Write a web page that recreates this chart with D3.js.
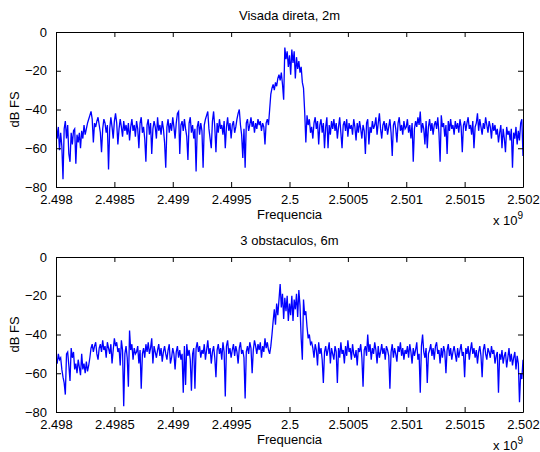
<!DOCTYPE html>
<html>
<head>
<meta charset="utf-8">
<script src="https://cdn.jsdelivr.net/npm/d3@7"></script>
<style>
  html, body { margin: 0; padding: 0; background: #fff; }
  svg { display: block; }
  text { font-family: "Liberation Sans", Arial, Helvetica, sans-serif; fill: #000; }
</style>
</head>
<body>
<svg id="chart" width="540" height="452"></svg>
<script>
// Frequency axis: 401 bins from 2.498 GHz to 2.502 GHz (10 kHz step)
const freqStart = 2.498e9;
const freqStep = 1e4;

const xTicks = [2.498, 2.4985, 2.499, 2.4995, 2.5, 2.5005, 2.501, 2.5015, 2.502];
const xTickLabels = ["2.498", "2.4985", "2.499", "2.4995", "2.5", "2.5005", "2.501", "2.5015", "2.502"];
const yTicks = [0, -20, -40, -60, -80];
const yTickLabels = ["0", "\u221220", "\u221240", "\u221260", "\u221280"];

const titles = ["Visada direta, 2m", "3 obstaculos, 6m"];

// Spectrum, line of sight at 2 m (dB FS)
const spectrumDirect = [
  -47,-55,-49,-61,-52,-59,-76,-50,-46,-55,-48,-63,-67,-52,-58,-51,-50,-68,-53,-57,
  -52,-60,-51,-55,-48,-53,-50,-47,-45,-43,-41,-45,-57,-47,-49,-46,-44,-48,-52,-62,
  -50,-45,-47,-52,-48,-71,-50,-44,-49,-55,-46,-42,-47,-58,-50,-45,-49,-54,-46,-51,
  -48,-53,-47,-56,-49,-45,-51,-48,-54,-46,-50,-60,-47,-44,-52,-49,-55,-67,-48,-45,
  -53,-47,-63,-50,-46,-49,-55,-44,-51,-48,-53,-46,-50,-57,-70,-49,-45,-52,-47,-51,
  -44,-49,-55,-47,-42,-41,-63,-48,-46,-51,-45,-50,-54,-66,-47,-44,-52,-48,-55,-50,
  -72,-49,-46,-53,-47,-51,-70,-48,-45,-43,-41,-50,-55,-60,-46,-41,-49,-62,-47,-52,
  -45,-50,-48,-53,-46,-60,-49,-44,-51,-47,-55,-48,-46,-52,-49,-45,-42,-40,-48,-53,
  -65,-50,-70,-47,-45,-51,-48,-44,-49,-46,-52,-47,-50,-45,-48,-46,-51,-47,-49,-58,
  -47,-45,-48,-40,-32,-29,-27,-30,-26,-28,-24,-22,-25,-21,-27,-35,-8,-14,-10,-18,
  -12,-22,-9,-16,-10,-24,-13,-19,-15,-21,-18,-26,-29,-41,-57,-43,-48,-45,-52,-49,
  -55,-47,-44,-50,-46,-58,-48,-45,-52,-47,-60,-49,-44,-60,-48,-53,-46,-50,-45,-51,
  -47,-55,-49,-44,-52,-60,-48,-46,-51,-45,-54,-47,-50,-48,-53,-45,-49,-56,-47,-52,
  -46,-50,-55,-48,-51,-63,-47,-45,-58,-49,-52,-46,-50,-48,-44,-53,-47,-42,-50,-55,
  -48,-46,-51,-47,-53,-49,-45,-52,-64,-48,-46,-50,-57,-47,-44,-51,-48,-53,-46,-50,
  -49,-45,-52,-48,-55,-47,-67,-50,-46,-49,-44,-48,-41,-52,-47,-50,-58,-46,-60,-49,
  -45,-51,-47,-53,-48,-46,-50,-44,-52,-67,-43,-49,-47,-54,-48,-63,-46,-51,-45,-50,
  -48,-53,-46,-50,-47,-52,-45,-49,-62,-48,-46,-51,-47,-44,-50,-48,-53,-46,-60,-49,
  -47,-42,-51,-45,-49,-53,-47,-50,-44,-48,-52,-46,-49,-55,-47,-51,-48,-53,-50,-57,
  -52,-48,-60,-50,-55,-62,-49,-53,-51,-56,-50,-70,-52,-55,-49,-58,-51,-56,-47,-45,
  -64
];

// Spectrum with 3 obstacles at 6 m (dB FS)
const spectrumObstacles = [
  -52,-55,-50,-53,-52,-58,-62,-65,-71,-50,-49,-56,-64,-47,-52,-49,-58,-55,-60,-53,
  -57,-61,-50,-58,-55,-60,-54,-59,-56,-52,-47,-45,-49,-46,-44,-50,-53,-47,-45,-49,
  -43,-48,-46,-52,-44,-47,-50,-45,-55,-48,-42,-46,-44,-49,-47,-56,-43,-48,-77,-50,
  -46,-52,-67,-38,-48,-45,-53,-47,-50,-49,-46,-55,-48,-68,-50,-47,-52,-45,-49,-44,
  -50,-47,-42,-55,-46,-49,-52,-48,-45,-51,-47,-54,-49,-46,-50,-53,-48,-45,-55,-52,
  -47,-50,-58,-49,-46,-52,-48,-53,-50,-70,-46,-66,-45,-51,-48,-53,-69,-50,-47,-68,
  -47,-44,-49,-46,-52,-48,-50,-45,-53,-48,-43,-50,-47,-55,-49,-46,-52,-62,-48,-45,
  -50,-47,-53,-44,-49,-72,-46,-43,-50,-47,-52,-48,-45,-51,-46,-49,-55,-47,-44,-50,
  -48,-52,-73,-49,-46,-50,-44,-47,-60,-48,-43,-46,-50,-45,-48,-44,-52,-46,-49,-42,
  -47,-44,-48,-50,-46,-40,-33,-27,-35,-24,-30,-22,-14,-26,-19,-32,-21,-28,-20,-33,
  -24,-30,-20,-33,-22,-27,-19,-31,-17,-25,-42,-53,-22,-30,-28,-36,-42,-40,-45,-44,
  -47,-52,-45,-48,-56,-44,-50,-47,-53,-65,-49,-46,-51,-48,-44,-55,-47,-50,-53,-46,
  -49,-65,-47,-52,-44,-50,-48,-55,-46,-51,-43,-49,-47,-53,-45,-50,-52,-48,-56,-47,
  -49,-45,-52,-67,-48,-46,-51,-40,-49,-45,-53,-47,-50,-44,-48,-55,-46,-52,-49,-45,
  -50,-47,-53,-46,-48,-51,-68,-49,-45,-52,-47,-50,-54,-46,-49,-44,-51,-47,-53,-48,
  -50,-46,-52,-45,-49,-55,-47,-51,-48,-44,-53,-50,-70,-46,-40,-49,-52,-47,-65,-50,
  -48,-45,-51,-47,-53,-46,-44,-50,-48,-55,-47,-52,-46,-49,-60,-48,-45,-51,-47,-53,
  -49,-46,-50,-54,-47,-52,-48,-45,-51,-49,-62,-47,-50,-46,-53,-48,-44,-50,-47,-52,
  -48,-55,-49,-46,-51,-62,-48,-45,-50,-53,-47,-49,-52,-46,-50,-48,-55,-51,-49,-70,
  -50,-53,-48,-55,-51,-49,-57,-52,-47,-54,-50,-56,-52,-49,-58,-51,-55,-75,-60,-63,
  -53
];

const series = [spectrumDirect, spectrumObstacles];

const svg = d3.select("#chart");
const panelTops = [32, 257];
const left = 56, right = 523, plotH = 155;
const tickLen = 5;
const fontSize = 13;

const x = d3.scaleLinear().domain([2.498e9, 2.502e9]).range([left, right]);

series.forEach((values, k) => {
  const top = panelTops[k];
  const bottom = top + plotH;
  const y = d3.scaleLinear().domain([-80, 0]).range([bottom, top]);
  const g = svg.append("g");

  // spectrum trace, clipped to the axes box
  const clipId = "clip" + k;
  svg.append("clipPath").attr("id", clipId)
    .append("rect").attr("x", left).attr("y", top).attr("width", right - left).attr("height", plotH);

  const line = d3.line()
    .x((d, i) => x(freqStart + i * freqStep))
    .y(d => y(d));

  g.append("path")
    .datum(values)
    .attr("clip-path", `url(#${clipId})`)
    .attr("fill", "none")
    .attr("stroke", "#0000ff")
    .attr("stroke-width", 1.3)
    .attr("stroke-linejoin", "miter")
    .attr("d", line);

  // axes (ticks pointing inward, box on all four sides)
  const xAxisB = d3.axisBottom(x).tickValues(xTicks.map(v => v * 1e9))
    .tickSizeInner(-tickLen).tickSizeOuter(0)
    .tickFormat((d, i) => xTickLabels[i]).tickPadding(tickLen + 3);
  const xAxisT = d3.axisTop(x).tickValues(xTicks.map(v => v * 1e9))
    .tickSizeInner(-tickLen).tickSizeOuter(0).tickFormat("");
  const yAxisL = d3.axisLeft(y).tickValues(yTicks)
    .tickSizeInner(-tickLen).tickSizeOuter(0)
    .tickFormat((d, i) => yTickLabels[i]).tickPadding(tickLen + 4);
  const yAxisR = d3.axisRight(y).tickValues(yTicks)
    .tickSizeInner(-tickLen).tickSizeOuter(0).tickFormat("");

  const axes = [
    g.append("g").attr("transform", `translate(0,${bottom})`).call(xAxisB),
    g.append("g").attr("transform", `translate(0,${top})`).call(xAxisT),
    g.append("g").attr("transform", `translate(${left},0)`).call(yAxisL),
    g.append("g").attr("transform", `translate(${right},0)`).call(yAxisR)
  ];
  axes.forEach(a => {
    a.select(".domain").attr("stroke", "#000").attr("stroke-width", 1);
    a.selectAll(".tick line").attr("stroke", "#000").attr("stroke-width", 1);
    a.selectAll("text").attr("font-size", fontSize)
      .attr("font-family", "'Liberation Sans', Arial, sans-serif").attr("fill", "#000");
  });

  // title
  g.append("text")
    .attr("x", (left + right) / 2).attr("y", top - 12)
    .attr("text-anchor", "middle").attr("font-size", fontSize)
    .text(titles[k]);

  // axis labels
  g.append("text")
    .attr("x", (left + right) / 2).attr("y", bottom + 32)
    .attr("text-anchor", "middle").attr("font-size", fontSize)
    .text("Frequencia");

  g.append("text")
    .attr("transform", `translate(19,${(top + bottom) / 2}) rotate(-90)`)
    .attr("text-anchor", "middle").attr("font-size", fontSize)
    .text("dB FS");

  // exponent note
  const ex = g.append("text")
    .attr("x", 493).attr("y", bottom + 38)
    .attr("font-size", fontSize);
  ex.append("tspan").text("x 10");
  ex.append("tspan").attr("dy", -6).attr("font-size", 10).text("9");
});
</script>
</body>
</html>
